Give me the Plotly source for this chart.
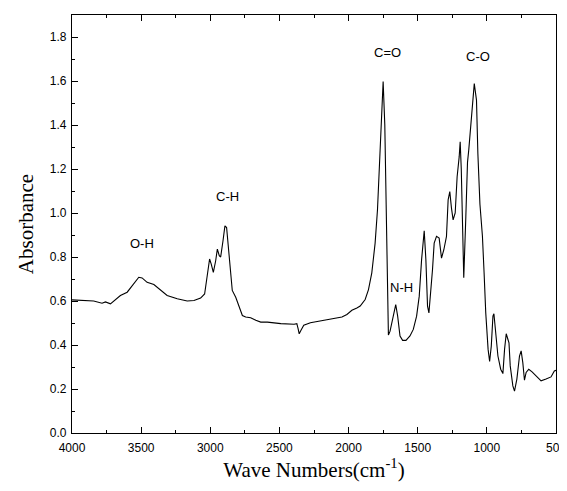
import plotly.graph_objects as go

wavenumber = [4000, 3843, 3783, 3758, 3722, 3698, 3650, 3601, 3565, 3517, 3493, 3457, 3408, 3360,
              3312, 3239, 3167, 3118, 3070, 3041, 3022, 3005, 2993, 2978, 2961, 2949, 2935, 2925,
              2908, 2894, 2882, 2865, 2848, 2841, 2816, 2792, 2768, 2744, 2708, 2671, 2635, 2587,
              2490, 2394, 2374, 2365, 2357, 2345, 2324, 2276, 2204, 2132, 2048, 2012, 1976, 1940,
              1916, 1880, 1856, 1832, 1808, 1791, 1777, 1765, 1750, 1738, 1729, 1719, 1712, 1700,
              1676, 1659, 1645, 1628, 1609, 1585, 1556, 1532, 1508, 1489, 1472, 1453, 1441, 1429,
              1419, 1407, 1393, 1381, 1364, 1345, 1328, 1311, 1292, 1280, 1268, 1256, 1244, 1229,
              1215, 1200, 1193, 1185, 1167, 1152, 1140, 1131, 1110, 1091, 1075, 1065, 1050, 1032,
              1020, 1008, 991, 980, 968, 956, 949, 937, 920, 900, 884, 872, 860, 848, 840, 831,
              812, 800, 783, 764, 752, 740, 728, 716, 697, 673, 644, 608, 572, 536, 512, 500]
absorbance = [0.605, 0.600, 0.590, 0.596, 0.587, 0.600, 0.625, 0.640, 0.670, 0.708, 0.705, 0.685,
              0.675, 0.648, 0.625, 0.610, 0.600, 0.602, 0.613, 0.632, 0.708, 0.791, 0.768, 0.730,
              0.783, 0.836, 0.806, 0.800, 0.874, 0.942, 0.934, 0.829, 0.708, 0.648, 0.617, 0.572,
              0.534, 0.527, 0.524, 0.512, 0.504, 0.504, 0.497, 0.494, 0.497, 0.474, 0.451, 0.466,
              0.490, 0.501, 0.509, 0.519, 0.527, 0.539, 0.558, 0.568, 0.577, 0.607, 0.652, 0.728,
              0.863, 1.014, 1.195, 1.400, 1.598, 1.400, 0.984, 0.682, 0.445, 0.463, 0.531, 0.584,
              0.531, 0.441, 0.421, 0.421, 0.441, 0.471, 0.531, 0.622, 0.788, 0.919, 0.788, 0.577,
              0.546, 0.622, 0.743, 0.863, 0.894, 0.886, 0.795, 0.833, 0.894, 1.060, 1.097, 1.022,
              0.969, 1.000, 1.165, 1.256, 1.324, 1.200, 0.706, 0.984, 1.230, 1.286, 1.467, 1.588,
              1.513, 1.270, 1.040, 0.894, 0.728, 0.546, 0.380, 0.325, 0.395, 0.531, 0.542, 0.456,
              0.350, 0.290, 0.270, 0.380, 0.451, 0.426, 0.410, 0.305, 0.214, 0.190, 0.245, 0.350,
              0.373, 0.320, 0.240, 0.275, 0.290, 0.278, 0.260, 0.237, 0.245, 0.255, 0.282, 0.285]

labels = ["O-H", "C-H", "C=O", "N-H", "C-O"]
label_x = [3495, 2875, 1716, 1620, 1063]
label_y = [0.862, 1.074, 1.729, 0.663, 1.713]

x_ticks = [4000, 3500, 3000, 2500, 2000, 1500, 1000, 500]
y_ticks = [0.0, 0.2, 0.4, 0.6, 0.8, 1.0, 1.2, 1.4, 1.6, 1.8]

fig = go.Figure()
fig.add_trace(go.Scatter(x=wavenumber, y=absorbance, mode="lines",
                         line=dict(color="black", width=1.1), showlegend=False))

for t, x, y in zip(labels, label_x, label_y):
    fig.add_annotation(x=x, y=y, text=t, showarrow=False,
                       font=dict(family="Liberation Sans", size=13, color="black"))

tickfont = dict(family="Liberation Sans", size=12, color="black")
fig.update_layout(
    width=567, height=491,
    margin=dict(l=64, r=19, t=7, b=66),
    paper_bgcolor="white", plot_bgcolor="white",
    xaxis=dict(range=[4000, 500], tickvals=x_ticks, ticktext=[str(v) for v in x_ticks],
               automargin=False, ticklabelstandoff=3,
               ticks="inside", ticklen=6, tickwidth=1, tickcolor="black",
               minor=dict(dtick=250, tick0=500, ticks="inside", ticklen=3, tickcolor="black"),
               showline=True, linecolor="black", linewidth=1.2, mirror="ticks",
               showgrid=False, zeroline=False, tickfont=tickfont,
               title=dict(text="Wave Numbers(cm<sup>-1</sup>)", standoff=8,
                          font=dict(family="Liberation Serif", size=21, color="black"))),
    yaxis=dict(range=[0, 1.9], tickvals=y_ticks, ticktext=[f"{v:.1f}" for v in y_ticks],
               automargin=False, ticklabelstandoff=2,
               ticks="inside", ticklen=6, tickwidth=1, tickcolor="black",
               minor=dict(dtick=0.1, tick0=0, ticks="inside", ticklen=3, tickcolor="black"),
               showline=True, linecolor="black", linewidth=1.2, mirror=True,
               showgrid=False, zeroline=False, tickfont=tickfont,
               title=dict(text="Absorbance", standoff=10,
                          font=dict(family="Liberation Serif", size=21, color="black"))),
)

fig.write_html("out.html")
